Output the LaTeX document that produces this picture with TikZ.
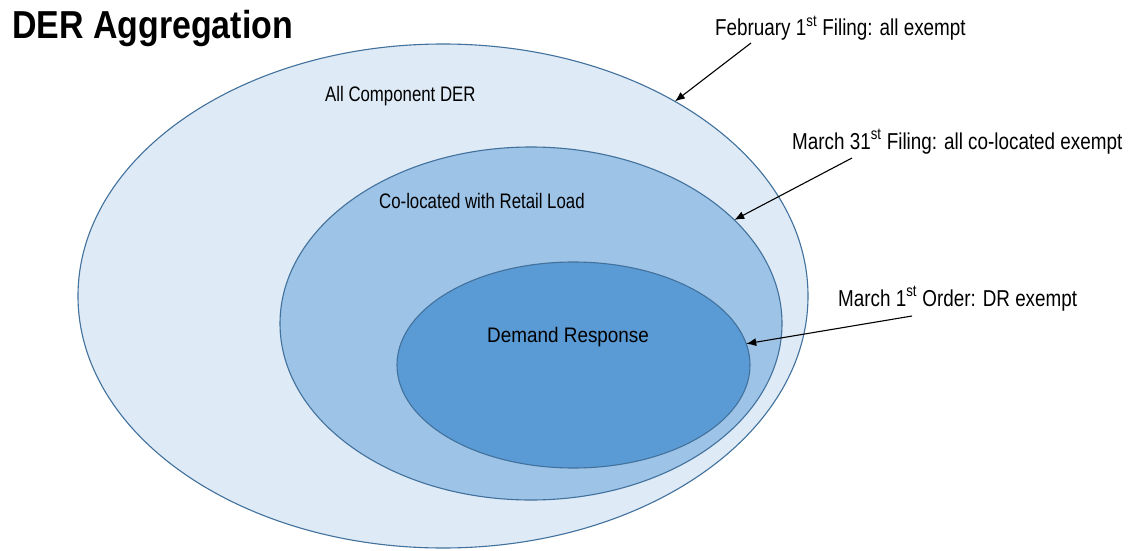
\documentclass[tikz,border=0pt]{standalone}
\usepackage{fontspec}
\setmainfont{Liberation Sans}[FakeStretch=0.8]
\newfontfamily\titlefont{Liberation Sans}[FakeStretch=0.87]
\newfontfamily\notefont{Liberation Sans}[FakeStretch=0.82]
\newfontfamily\drfont{Liberation Sans}[FakeStretch=0.9]
\usetikzlibrary{shapes.geometric,arrows.meta}
\definecolor{outerfill}{HTML}{DEEAF6}
\definecolor{midfill}{HTML}{9DC3E6}
\definecolor{innerfill}{HTML}{5B9BD5}
\definecolor{rimcol}{HTML}{41719C}
\tikzset{
  setshape/.style={ellipse, draw=rimcol, line width=1.1pt, inner sep=0pt, outer sep=0pt},
  lbl/.style={anchor=base west, inner sep=0pt, font=\fontsize{21}{24}\selectfont, text=black},
  note/.style={anchor=base west, inner sep=0pt, font=\notefont\fontsize{23}{26}\selectfont, text=black},
  pointer/.style={draw=black, line width=1.1pt, -{Latex[length=10pt,width=8pt]}}
}
\begin{document}
\begin{tikzpicture}[x=1pt,y=-1pt]
\useasboundingbox (0,0) rectangle (1138,551);
\fill[white] (0,0) rectangle (1138,551);
% sets
\node[setshape, fill=outerfill, minimum width=730, minimum height=504] (outer) at (443,296) {};
\node[setshape, fill=midfill, minimum width=502, minimum height=353] (mid) at (531,323.5) {};
\node[setshape, fill=innerfill, minimum width=353, minimum height=206] (inner) at (573.5,365) {};
% title
\node[anchor=base west, inner sep=0pt, font=\titlefont\bfseries\fontsize{39}{44}\selectfont] (title) at (12,39) {DER Aggregation};
% set labels
\node[lbl] (louter) at (325,101) {All Component DER};
\node[lbl] (lmid) at (379,208) {Co-located with Retail Load};
\node[lbl, font=\drfont\fontsize{21}{24}\selectfont] (linner) at (487,342) {Demand Response};
% annotations
\node[note] (feb) at (715,36) {February 1\textsuperscript{st} Filing: all exempt};
\node[note] (mar31) at (792,149) {March 31\textsuperscript{st} Filing: all co-located exempt};
\node[note] (mar1) at (838,306) {March 1\textsuperscript{st} Order: DR exempt};
\coordinate (sfeb) at (751,43);
\coordinate (smar31) at (852,158);
\coordinate (smar1) at (912,316);
\draw[pointer] (sfeb) -- (outer.40.3);
\draw[pointer] (smar31) -- (mid.27.1);
\draw[pointer] (smar1) -- (inner.7.4);
\end{tikzpicture}
\end{document}
